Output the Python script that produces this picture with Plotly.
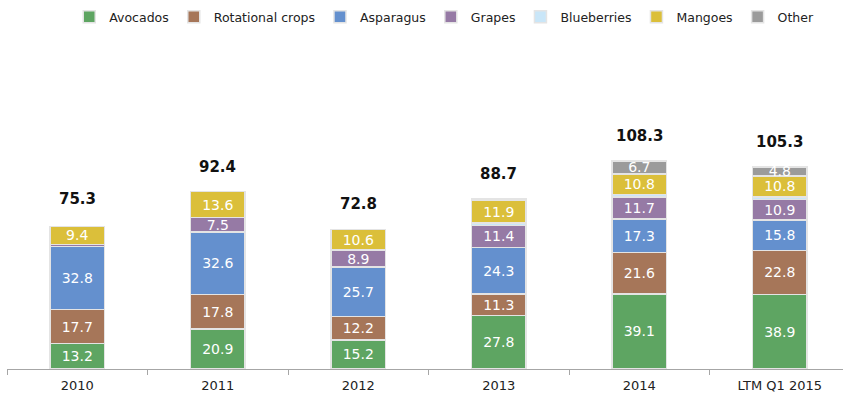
import plotly.graph_objects as go

categories = ["2010", "2011", "2012", "2013", "2014", "LTM Q1 2015"]
avocados = [13.2, 20.9, 15.2, 27.8, 39.1, 38.9]
rotational = [17.7, 17.8, 12.2, 11.3, 21.6, 22.8]
asparagus = [32.8, 32.6, 25.7, 24.3, 17.3, 15.8]
grapes = [1.2, 7.5, 8.9, 11.4, 11.7, 10.9]
blueberries = [0.0, 0.0, 0.0, 1.2, 1.1, 1.3]
mangoes = [9.4, 13.6, 10.6, 11.9, 10.8, 10.8]
other = [0.0, 0.0, 0.0, 0.8, 6.7, 4.8]
totals = [75.3, 92.4, 72.8, 88.7, 108.3, 105.3]

series = [
    ("Avocados", avocados, "#5EA562"),
    ("Rotational crops", rotational, "#A67659"),
    ("Asparagus", asparagus, "#6490CE"),
    ("Grapes", grapes, "#967AA5"),
    ("Blueberries", blueberries, "#C9E6F8"),
    ("Mangoes", mangoes, "#DBBF3A"),
    ("Other", other, "#9B9B9B"),
]

FONT = "DejaVu Sans"
fig = go.Figure()
for name, vals, col in series:
    fig.add_trace(go.Bar(
        name=name, x=categories, y=vals,
        marker=dict(color=col, line=dict(color="#E4E4E4", width=1.5)),
        text=[f"{v:.1f}" if v >= 4 else "" for v in vals],
        textposition="inside", insidetextanchor="middle", textangle=0,
        textfont=dict(family=FONT, size=14, color="white"),
        hoverinfo="skip",
    ))

for i, t in enumerate(totals):
    fig.add_annotation(x=i, y=t, text=f"<b>{t:.1f}</b>", showarrow=False,
                       yshift=25, font=dict(family=FONT, size=15, color="#111"))

fig.update_layout(
    width=843, height=401,
    barmode="stack", bargap=0.61,
    margin=dict(l=7, r=0, t=40, b=32),
    plot_bgcolor="white", paper_bgcolor="white",
    uniformtext=dict(mode="show", minsize=14),
    font=dict(family=FONT, color="#222"),
    legend=dict(orientation="h", xref="container", x=0.527, xanchor="center",
                yref="container", y=0.995, yanchor="top",
                font=dict(family=FONT, size=12.5, color="#222"),
                itemwidth=30, traceorder="normal"),
    xaxis=dict(type="category", range=[-0.5, 5.45], showline=True,
               linecolor="#A6A6A6", linewidth=1, ticks="outside",
               tickson="boundaries", ticklen=5, tickcolor="#A6A6A6",
               ticklabelstandoff=4,
               tickfont=dict(family=FONT, size=13, color="#222"),
               showgrid=False, fixedrange=True),
    yaxis=dict(range=[0, 329 / 1.92], visible=False, fixedrange=True),
)

fig.write_html("out.html", config={"displayModeBar": False},
               post_script="document.body.style.margin='0';")
